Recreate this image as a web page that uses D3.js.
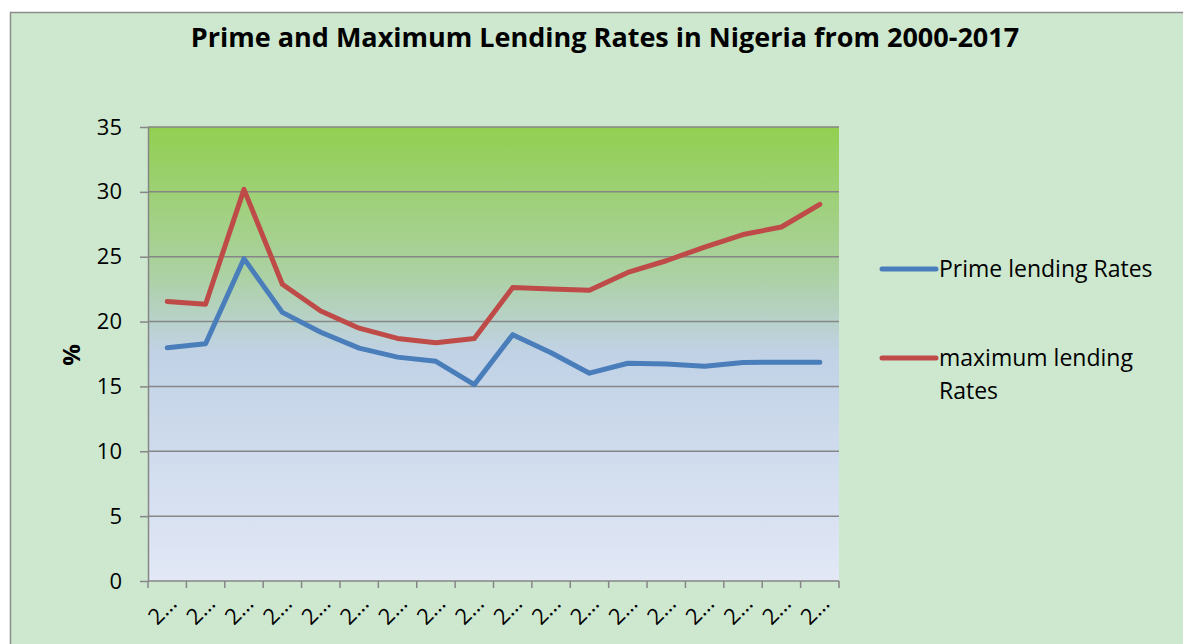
<!DOCTYPE html>
<html lang="en">
<head>
<meta charset="UTF-8">
<title>Prime and Maximum Lending Rates in Nigeria</title>
<style>
    body { margin: 0; padding: 0; background: #fff; }
    svg { display: block; font-family: "Open Sans", "Noto Sans", sans-serif; }
    .grid line { stroke: #868686; stroke-width: 1.5; }
    .axis { font-family: "Open Sans", "Noto Sans", sans-serif; }
    .axis path, .axis line { stroke: #868686; stroke-width: 1.5; }
    .axis text { fill: #000; }
</style>
</head>
<body>
<svg id="chart" width="1183" height="644"></svg>
<script src="https://d3js.org/d3.v7.min.js"></script>
<script>
    const years = d3.range(2000, 2018).map(String);
    const primeRates = [17.98, 18.29, 24.85, 20.71, 19.18, 17.95, 17.26, 16.94, 15.14,
                        18.99, 17.59, 16.02, 16.79, 16.72, 16.55, 16.85, 16.87, 16.87];
    const maxRates = [21.55, 21.34, 30.19, 22.88, 20.82, 19.49, 18.70, 18.36, 18.70,
                      22.62, 22.51, 22.42, 23.79, 24.69, 25.74, 26.71, 27.29, 29.04];
    const yTicks = [0, 5, 10, 15, 20, 25, 30, 35];
    const series = [
        { name: ["Prime lending Rates"], values: primeRates, color: "#4A7EBB" },
        { name: ["maximum lending", "Rates"], values: maxRates, color: "#BE4B48" }
    ];

    const plot = { left: 148, right: 839, top: 127, bottom: 581 };
    const svg = d3.select("#chart");

    // chart frame
    svg.append("rect")
        .attr("x", 10.5).attr("y", 12.5)
        .attr("width", 1200).attr("height", 700)
        .attr("fill", "#CDE8CF")
        .attr("stroke", "#8C8C8C").attr("stroke-width", 1.5);

    const grad = svg.append("defs").append("linearGradient")
        .attr("id", "plotbg").attr("x1", 0).attr("y1", 0).attr("x2", 0).attr("y2", 1);
    grad.append("stop").attr("offset", "0%").attr("stop-color", "#92D050");
    grad.append("stop").attr("offset", "33%").attr("stop-color", "#ACD1A4");
    grad.append("stop").attr("offset", "50%").attr("stop-color", "#C1D2E6");
    grad.append("stop").attr("offset", "100%").attr("stop-color", "#E2E8F6");

    const x = d3.scaleBand().domain(years).range([plot.left, plot.right]);
    const y = d3.scaleLinear().domain([0, 35]).range([plot.bottom, plot.top]);

    svg.append("rect")
        .attr("x", plot.left).attr("y", plot.top)
        .attr("width", plot.right - plot.left).attr("height", plot.bottom - plot.top)
        .attr("fill", "url(#plotbg)");

    // horizontal grid
    svg.append("g").attr("class", "grid")
        .selectAll("line").data(yTicks.filter(d => d > 0)).join("line")
        .attr("x1", plot.left).attr("x2", plot.right)
        .attr("y1", d => y(d)).attr("y2", d => y(d));

    // y axis
    const yAxis = svg.append("g").attr("class", "axis")
        .attr("transform", `translate(${plot.left},0)`)
        .call(d3.axisLeft(y).tickValues(yTicks).tickSize(8).tickSizeOuter(0).tickPadding(18));
    yAxis.selectAll("text").style("font-size", "22px");

    // x axis: ticks on category boundaries
    const xAxis = svg.append("g").attr("class", "axis")
        .attr("transform", `translate(0,${plot.bottom})`);
    xAxis.append("line")
        .attr("x1", plot.left).attr("x2", plot.right);
    xAxis.selectAll(".tk").data(years.concat(["end"])).join("line")
        .attr("class", "tk")
        .attr("x1", (d, i) => plot.left + i * x.step())
        .attr("x2", (d, i) => plot.left + i * x.step())
        .attr("y1", 0).attr("y2", 7);
    xAxis.selectAll("text").data(years).join("text")
        .attr("transform", d => `translate(${x(d) + x.bandwidth() / 2 + 11},${24}) rotate(-45)`)
        .attr("text-anchor", "end")
        .style("font-size", "22px")
        .text(d => d.slice(0, 1) + "\u2026");

    // lines
    const line = d3.line()
        .x((d, i) => x(years[i]) + x.bandwidth() / 2)
        .y(d => y(d));
    svg.append("g").selectAll("path").data(series).join("path")
        .attr("d", d => line(d.values))
        .attr("fill", "none")
        .attr("stroke", d => d.color)
        .attr("stroke-width", 5)
        .attr("stroke-linejoin", "round")
        .attr("stroke-linecap", "round");

    // title
    svg.append("text")
        .attr("x", 605).attr("y", 47)
        .attr("text-anchor", "middle")
        .style("font-size", "27px").style("font-weight", "bold")
        .text("Prime and Maximum Lending Rates in Nigeria from 2000-2017");

    // y title
    svg.append("text")
        .attr("transform", "translate(80,355) rotate(-90)")
        .attr("text-anchor", "middle")
        .style("font-size", "24px").style("font-weight", "bold")
        .text("%");

    // legend
    const legendY = [269, 358];
    const legend = svg.append("g").selectAll("g").data(series).join("g")
        .attr("transform", (d, i) => `translate(882,${legendY[i]})`);
    legend.append("line")
        .attr("x1", 0).attr("x2", 54)
        .attr("stroke", d => d.color).attr("stroke-width", 5)
        .attr("stroke-linecap", "round");
    legend.append("text")
        .attr("x", 57).attr("y", 8)
        .style("font-size", "23px")
        .selectAll("tspan").data(d => d.name).join("tspan")
        .attr("x", 57).attr("dy", (d, i) => i === 0 ? 0 : 33)
        .text(d => d);
</script>
</body>
</html>
